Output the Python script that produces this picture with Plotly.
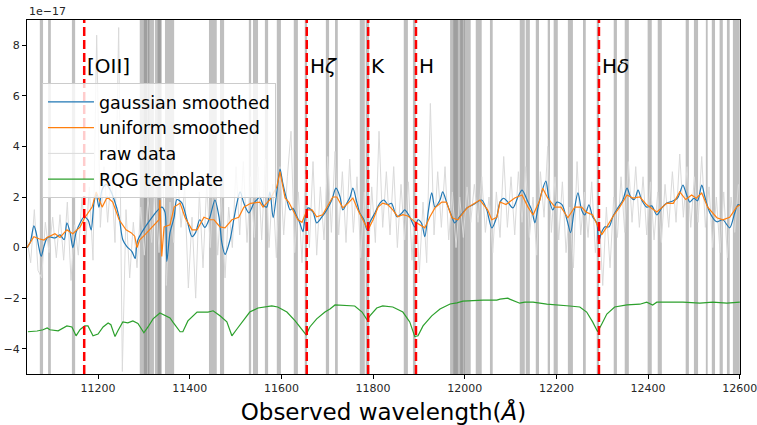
import numpy as np
import plotly.graph_objects as go

# ---------------- data (flux in units of 1e-17) ----------------
z1 = 2.997  # 1+z
line_names = ["[OII]", "H<i>ζ</i>", "K", "H", "H<i>δ</i>"]
line_rest = [3727.0, 3889.0, 3933.7, 3968.5, 4101.7]

gauss_wave = [11045, 11052, 11060, 11065, 11071, 11076, 11082, 11089, 11095, 11106, 11117, 11126, 11132, 11139, 11145,
              11152, 11161, 11169, 11178, 11185, 11191, 11196, 11202, 11209, 11218, 11226, 11235, 11246, 11254, 11263,
              11274, 11281, 11287, 11339, 11346, 11350, 11357, 11366, 11372, 11383, 11394, 11405, 11413, 11422, 11433,
              11444, 11455, 11464, 11470, 11477, 11488, 11496, 11503, 11510, 11518, 11529, 11540, 11547, 11553, 11560,
              11568, 11575, 11582, 11590, 11597, 11603, 11612, 11619, 11625, 11634, 11640, 11647, 11651, 11658, 11669,
              11677, 11688, 11699, 11710, 11719, 11728, 11734, 11743, 11750, 11756, 11765, 11771, 11780, 11787, 11793,
              11804, 11815, 11824, 11832, 11840, 11852, 11863, 11869, 11880, 11891, 11898, 11906, 11913, 11920, 11928,
              11935, 11946, 11952, 11961, 11972, 11978, 11989, 12005, 12018, 12037, 12048, 12059, 12070, 12077, 12085,
              12094, 12105, 12116, 12125, 12138, 12146, 12153, 12160, 12168, 12177, 12183, 12192, 12201, 12212, 12223,
              12231, 12238, 12247, 12255, 12262, 12271, 12279, 12288, 12292, 12299, 12306, 12315, 12323, 12334, 12345,
              12354, 12362, 12370, 12378, 12386, 12397, 12408, 12419, 12430, 12441, 12455, 12465, 12476, 12482, 12491,
              12500, 12508, 12517, 12524, 12535, 12550, 12563, 12578, 12589, 12596, 12600]
gauss_flux = [0.0, 0.2, 0.86, 0.59, 0.0, -0.35, 0.05, 0.39, 0.42, 0.38, 0.5, 0.31, 0.98, 0.6, 0.0,
              0.59, 0.98, 1.2, 1.1, 0.7, 1.76, 2.1, 1.6, 2.3, 2.5, 2.3, 1.9, 1.2, 0.31, 0.04,
              -0.16, -0.43, 0.31, 1.6, 1.4, -0.55, 0.59, 1.2, 1.9, 1.76, 1.1, 0.43, 0.6, 1.1, 0.8,
              1.2, 1.88, 1.2, 0.2, -0.27, 0.31, 1.1, 1.76, 2.2, 1.76, 1.37, 1.76, 1.9, 2.0, 1.69,
              1.6, 2.2, 1.18, 2.2, 3.1, 2.55, 1.88, 1.49, 1.55, 1.22, 0.98, 0.63, 1.1, 1.57, 1.4,
              0.98, 1.2, 1.49, 1.88, 2.35, 2.0, 1.49, 1.76, 2.0, 2.35, 1.76, 1.37, 1.1, 0.7, 1.0,
              1.37, 1.76, 1.88, 1.7, 1.75, 1.22, 1.37, 1.49, 1.22, 0.82, 1.1, 0.95, 0.43, 1.37, 2.16,
              1.6, 1.88, 2.2, 1.76, 1.22, 0.98, 1.22, 1.57, 1.69, 1.88, 1.49, 0.78, 1.22, 1.8, 1.95,
              1.8, 1.57, 2.0, 2.27, 1.8, 1.49, 0.98, 1.6, 2.2, 2.63, 2.0, 1.49, 1.8, 1.7, 1.1,
              0.59, 1.37, 2.16, 1.49, 1.29, 1.69, 1.22, 0.98, 0.24, 0.63, 0.82, 0.82, 1.22, 1.57, 1.88,
              2.35, 2.0, 1.9, 2.27, 1.88, 1.6, 1.65, 1.29, 1.57, 1.76, 1.85, 1.98, 2.47, 2.2, 1.8,
              1.95, 1.85, 2.47, 2.0, 1.37, 1.02, 1.1, 0.78, 1.37, 1.69, 1.69]

unif_wave = [11045, 11060, 11071, 11082, 11089, 11095, 11106, 11117, 11132, 11145, 11161, 11171, 11187, 11196, 11209,
             11220, 11232, 11246, 11261, 11272, 11280, 11285, 11291, 11302, 11318, 11333, 11335, 11339, 11344, 11357,
             11366, 11379, 11390, 11405, 11416, 11431, 11444, 11453, 11466, 11477, 11492, 11507, 11518, 11533, 11553,
             11560, 11575, 11590, 11597, 11608, 11616, 11625, 11636, 11645, 11656, 11667, 11677, 11690, 11699, 11712,
             11721, 11734, 11745, 11756, 11767, 11778, 11789, 11800, 11811, 11821, 11832, 11843, 11854, 11865, 11876,
             11891, 11902, 11913, 11924, 11935, 11950, 11960, 11972, 11985, 12005, 12033, 12050, 12059, 12070, 12077,
             12090, 12109, 12125, 12138, 12149, 12164, 12170, 12181, 12197, 12210, 12225, 12240, 12255, 12265, 12279,
             12290, 12299, 12310, 12323, 12338, 12354, 12367, 12382, 12397, 12419, 12441, 12455, 12469, 12482, 12495,
             12505, 12517, 12530, 12550, 12563, 12578, 12593, 12600]
unif_flux = [0.0, 0.43, 0.35, 0.3, 0.4, 0.45, 0.55, 0.4, 0.7, 0.55, 0.82, 1.18, 1.6, 2.2, 1.6,
             2.0, 1.8, 1.1, 0.7, 0.59, 0.45, 0.0, 0.31, 0.5, 0.82, 1.1, 1.88, -0.35, 0.82, 0.9,
             1.6, 1.76, 1.18, 0.7, 0.7, 1.2, 1.1, 1.1, 0.82, 0.78, 1.1, 1.2, 1.6, 1.75, 1.8,
             1.6, 1.9, 2.4, 3.0, 1.96, 1.8, 1.49, 1.1, 1.0, 1.49, 1.49, 1.22, 1.3, 1.6, 2.0,
             2.0, 1.57, 1.75, 1.96, 1.49, 1.1, 0.7, 1.1, 1.6, 1.76, 1.7, 1.49, 1.22, 1.3, 1.25,
             1.02, 0.9, 0.78, 1.22, 1.57, 1.8, 1.8, 1.18, 1.1, 1.57, 1.88, 1.49, 1.1, 1.2, 1.8,
             1.7, 1.96, 2.08, 1.6, 1.29, 1.88, 2.35, 1.96, 1.6, 1.6, 1.18, 1.6, 1.6, 1.4, 1.29,
             0.82, 0.51, 0.82, 1.22, 1.6, 2.08, 1.96, 2.0, 1.69, 1.41, 1.76, 1.75, 2.2, 1.9, 2.08,
             1.95, 2.16, 1.6, 1.18, 1.1, 1.2, 1.6, 1.69]

raw_start, raw_step = 11045, 8
raw_flux = [0.3, -0.6, 1.5, -0.9, -1.2, 1.0, -0.2, 1.2, -0.4, 1.3, -0.5, 1.8, -1.3, 0.9, -0.3,
            2.0, 0.2, 2.4, -0.5, 8.4, 0.8, 3.2, 1.0, 3.0, 0.2, 8.7, -4.9, 1.5, -1.2, 1.0,
            -0.8, 1.6, -0.3, 2.0, 0.2, 2.6, -0.2, 3.0, -1.5, 1.8, 0.2, 3.0, 0.8, 2.4, -1.6,
            1.2, -2.0, 2.2, -0.8, 2.5, 0.0, 3.0, -0.3, 2.0, -1.2, 1.6, 0.0, 3.2, 0.5, 3.4,
            0.2, 2.8, 0.4, 3.2, 0.3, 3.5, 0.0, 2.5, -0.4, 3.2, 0.5, 2.8, 4.6, -0.2, 2.2,
            -0.6, 2.9, 0.0, 3.4, -0.3, 2.4, 0.3, 3.6, 0.6, 3.8, 0.5, 3.0, 0.2, 3.5, 0.6,
            2.8, -0.4, 2.2, -0.8, 2.4, 0.2, 4.6, 0.8, 3.0, 0.5, 3.2, 0.0, 2.5, 0.3, 2.6,
            -0.5, 2.2, -1.0, 1.8, -0.6, 5.7, 0.5, 3.0, 0.8, 3.2, 0.3, 2.2, 0.0, 2.0, 0.4,
            2.4, 1.0, 2.5, 1.0, 2.8, 0.6, 2.0, -0.2, 2.2, 0.4, 3.6, 0.8, 2.8, 0.5, 3.0,
            1.0, 3.2, 0.4, 2.0, -0.3, 3.0, 1.2, 4.0, 0.6, 2.8, 0.3, 2.6, -0.2, 1.6, -0.8,
            3.4, 0.5, 2.2, 0.4, 2.6, -0.2, 1.4, -1.5, 1.6, -0.8, 2.0, 0.4, 2.8, 0.6, 3.4,
            1.0, 3.2, 0.8, 2.8, 0.5, 2.6, 0.3, 2.2, 0.2, 2.5, 0.8, 3.0, 1.0, 3.7, 1.2,
            3.2, 0.8, 2.8, 1.0, 3.6, 0.8, 2.4, 0.0, 2.0, -0.2, 2.2, -0.4, 2.0, 0.6, 2.5]
raw_wave = raw_start + raw_step * np.arange(len(raw_flux))

tmpl_wave = [11047, 11067, 11080, 11089, 11095, 11113, 11132, 11143, 11152, 11161, 11171, 11178, 11189, 11200, 11211,
             11222, 11228, 11237, 11243, 11254, 11265, 11276, 11287, 11300, 11309, 11320, 11335, 11357, 11363, 11379,
             11385, 11396, 11416, 11429, 11440, 11451, 11466, 11481, 11492, 11503, 11516, 11531, 11549, 11564, 11579,
             11592, 11612, 11630, 11645, 11654, 11662, 11677, 11695, 11706, 11717, 11743, 11760, 11776, 11787, 11793,
             11808, 11821, 11843, 11865, 11880, 11891, 11898, 11909, 11928, 11946, 11968, 11983, 11996, 12040, 12070,
             12077, 12094, 12098, 12109, 12120, 12131, 12149, 12179, 12207, 12229, 12251, 12266, 12279, 12290, 12299,
             12310, 12327, 12354, 12382, 12397, 12410, 12419, 12441, 12476, 12513, 12541, 12572, 12600]
tmpl_flux = [-3.33, -3.3, -3.25, -3.18, -3.25, -3.29, -3.1, -3.14, -3.49, -3.24, -3.1, -3.1, -3.49, -3.42, -3.14,
             -2.98, -3.05, -3.52, -3.3, -2.94, -2.98, -2.9, -3.0, -3.37, -3.14, -2.82, -2.59, -2.78, -2.94, -3.33,
             -3.33, -2.9, -2.55, -2.55, -2.55, -2.5, -2.7, -2.94, -3.49, -3.22, -2.9, -2.55, -2.39, -2.35, -2.31,
             -2.35, -2.55, -2.9, -3.22, -3.45, -3.14, -2.82, -2.55, -2.43, -2.27, -2.31, -2.31, -2.55, -2.86, -2.7,
             -2.39, -2.31, -2.35, -2.55, -2.94, -3.52, -3.49, -3.1, -2.7, -2.43, -2.23, -2.19, -2.12, -2.08, -2.08,
             -2.04, -2.0, -2.04, -2.12, -2.2, -2.16, -2.16, -2.24, -2.27, -2.31, -2.35, -2.55, -2.94, -3.33, -3.02,
             -2.63, -2.35, -2.27, -2.24, -2.16, -2.27, -2.16, -2.16, -2.16, -2.2, -2.16, -2.2, -2.16]

mask_regions = [(11073, 11080), (11091, 11097), (11143, 11150), (11291, 11307), (11300, 11312), (11309, 11322),
                (11324, 11339), (11330, 11337), (11346, 11366), (11442, 11459), (11466, 11475), (11529, 11534),
                (11538, 11549), (11564, 11571), (11590, 11599), (11627, 11636), (11651, 11656), (11697, 11704),
                (11717, 11723), (11771, 11782), (11784, 11791), (11867, 11876), (11887, 11893), (11968, 11985),
                (11975, 11996), (11990, 12000), (11998, 12013), (12024, 12037), (12055, 12061), (12120, 12131),
                (12133, 12142), (12155, 12162), (12181, 12186), (12194, 12203), (12225, 12236), (12258, 12264),
                (12288, 12293), (12325, 12332), (12349, 12358), (12399, 12408), (12421, 12430), (12482, 12489),
                (12500, 12509), (12526, 12530), (12539, 12546), (12556, 12563), (12572, 12578), (12585, 12600)]

x_ticks = [11200, 11400, 11600, 11800, 12000, 12200, 12400, 12600]
y_ticks = [-4, -2, 0, 2, 4, 6, 8]
label_y = 7.2

# ---------------- figure ----------------
fig = go.Figure()
fig.add_trace(go.Scatter(x=raw_wave, y=raw_flux, mode="lines", name="raw data",
                         line=dict(color="#dadada", width=1), legendrank=3))
fig.add_trace(go.Scatter(x=gauss_wave, y=gauss_flux, mode="lines", name="gaussian smoothed",
                         line=dict(color="#1f77b4", width=1.2, shape="spline", smoothing=0.8), legendrank=1))
fig.add_trace(go.Scatter(x=unif_wave, y=unif_flux, mode="lines", name="uniform smoothed",
                         line=dict(color="#ff7f0e", width=1.2), legendrank=2))
fig.add_trace(go.Scatter(x=tmpl_wave, y=tmpl_flux, mode="lines", name="RQG template",
                         line=dict(color="#2ca02c", width=1.2), legendrank=4))

shapes = []
for a, b in mask_regions:
    shapes.append(dict(type="rect", xref="x", yref="paper", x0=a, x1=b, y0=0, y1=1,
                       fillcolor="rgba(128,128,128,0.5)", line=dict(width=0), layer="below"))
annotations = []
for name, rest in zip(line_names, line_rest):
    lam = rest * z1
    shapes.append(dict(type="line", xref="x", yref="paper", x0=lam, x1=lam, y0=0, y1=1,
                       line=dict(color="red", width=2.5, dash="9px,4px"), layer="above"))
    annotations.append(dict(x=lam, y=label_y, xref="x", yref="y", text=name, showarrow=False,
                            xanchor="left", yanchor="middle", xshift=1,
                            font=dict(size=20, color="black", family="DejaVu Sans")))
annotations.append(dict(x=0, y=1, xref="paper", yref="paper", text="1e−17", showarrow=False,
                        xanchor="left", yanchor="bottom", yshift=0,
                        font=dict(size=11, color="#262626", family="DejaVu Sans")))

axis_common = dict(showline=True, linecolor="black", linewidth=1, mirror=True, ticks="outside",
                   ticklen=4, tickcolor="black", showgrid=False, zeroline=False, automargin=False,
                   ticklabeloverflow="allow",
                   tickfont=dict(size=11, color="#262626", family="DejaVu Sans"))

fig.update_layout(
    width=757, height=425,
    margin=dict(l=27, r=17, t=20, b=51),
    paper_bgcolor="white", plot_bgcolor="white",
    shapes=shapes, annotations=annotations,
    xaxis=dict(range=[11045, 12600.5], tickvals=x_ticks, ticktext=[str(v) for v in x_ticks],
               title=dict(text="Observed wavelength(<i>Å</i>)", standoff=12,
                          font=dict(size=23, color="black", family="DejaVu Sans")),
               **axis_common),
    yaxis=dict(range=[-5, 9], tickvals=y_ticks, ticktext=[str(v).replace("-", "−") for v in y_ticks],
               **axis_common),
    legend=dict(x=0.021, y=0.822, xanchor="left", yanchor="top",
                bgcolor="rgba(255,255,255,0.8)", bordercolor="#cccccc", borderwidth=1,
                font=dict(size=17.5, color="black", family="DejaVu Sans"),
                itemwidth=46, tracegroupgap=0),
    showlegend=True,
)

# remove the browser's default 8px page margin so the figure fills the window exactly
fig.write_html("out.html", config={"displayModeBar": False},
               post_script="document.body.style.margin='0px';")
